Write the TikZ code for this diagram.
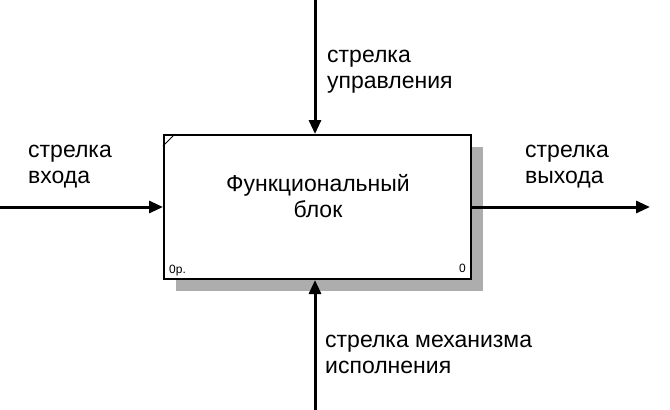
\documentclass[tikz,border=0pt]{standalone}
\usepackage{fontspec}
\setmainfont{Liberation Sans}
\usetikzlibrary{arrows.meta,shadows}

\begin{document}
\begin{tikzpicture}[x=1pt,y=-1pt,
    lbl/.style={align=left,anchor=base west,inner sep=0,font=\fontsize{23}{26}\selectfont},
    arr/.style={line width=3pt,-{Triangle[length=14pt,width=12pt]}},
    tag/.style={inner sep=0,font=\fontsize{12}{14}\selectfont}]
    \useasboundingbox (0,0) rectangle (670,410);

    % functional block with its shadow
    \node[draw,line width=2pt,fill=white,minimum width=307,minimum height=144,
        drop shadow={shadow xshift=12pt,shadow yshift=-12pt,fill=black!32,opacity=1}] (blk) at (317.5,207) {};
    \draw[line width=1pt] ([yshift=-12pt]blk.north west) -- ([xshift=12pt]blk.north west);
    \node[lbl,align=center,anchor=base] (fname) at (318,217) {Функциональный\\блок};
    \node[tag,anchor=base west] (cost) at (169,273) {0р.};
    \node[tag,anchor=base east] (num) at (466,272) {0};

    % free ends of the arrows
    \coordinate (in) at (0,207);
    \coordinate (out) at (650,207);
    \coordinate (ctl) at (315,0);
    \coordinate (mech) at (315,410);

    \draw[arr] (in) -- (blk.west);
    \draw[arr] (blk.east) -- (out);
    \draw[arr] (ctl) -- (ctl |- blk.north);
    \draw[arr] (mech) -- (mech |- blk.south);

    % last-line baselines
    \node[lbl] (inlbl) at (28,183) {стрелка\\входа};
    \node[lbl] (ctllbl) at (327,88) {стрелка\\управления};
    \node[lbl] (outlbl) at (525,183) {стрелка\\выхода};
    \node[lbl] (mechlbl) at (325,373) {стрелка механизма\\исполнения};
\end{tikzpicture}
\end{document}
